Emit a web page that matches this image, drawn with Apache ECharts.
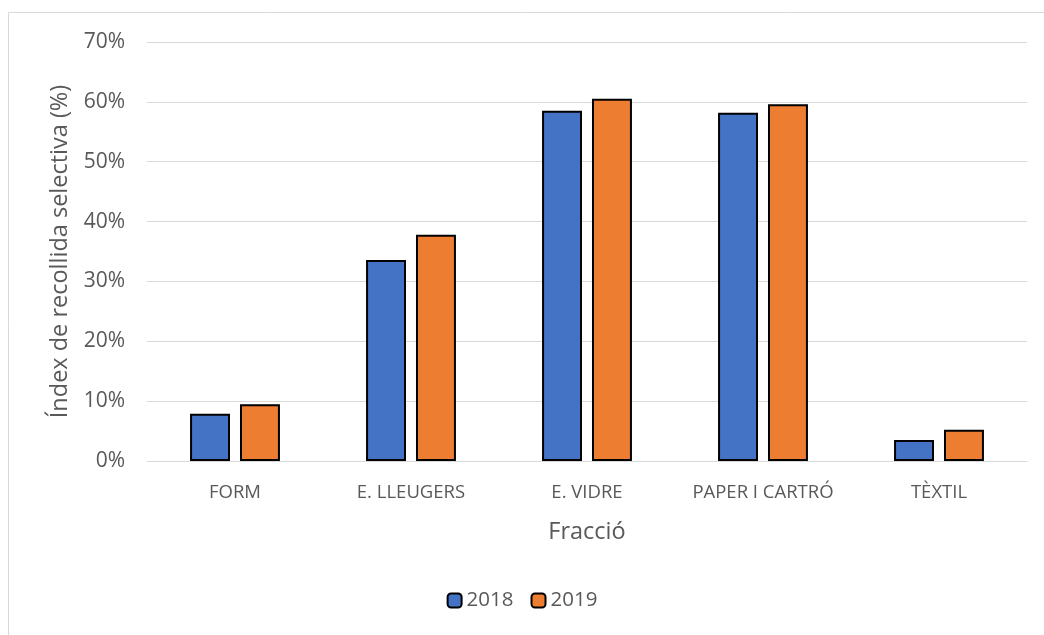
<!DOCTYPE html>
<html><head><meta charset="utf-8">
<script src="https://cdn.jsdelivr.net/npm/echarts@6/dist/echarts.min.js"></script>
<style>html,body{margin:0;padding:0;background:#fff}#c{width:1044px;height:635px}</style>
</head><body><div id="c"></div>
<script>
const categories = ['FORM', 'E. LLEUGERS', 'E. VIDRE', 'PAPER I CARTRÓ', 'TÈXTIL'];
const s2018 = [7.9, 33.6, 58.5, 58.2, 3.5];
const s2019 = [9.5, 37.8, 60.5, 59.6, 5.2];
const yTicks = [0, 10, 20, 30, 40, 50, 60, 70];
const FONT = '"Open Sans", Lato, sans-serif';
const chart = echarts.init(document.getElementById('c'));
const barStyle = (c) => ({ color: c, borderColor: '#000', borderWidth: 2 });
chart.setOption({
  animation: false,
  textStyle: { fontFamily: FONT },
  graphic: [{ type: 'rect', shape: { x: 8.5, y: 12.5, width: 1100, height: 700 }, style: { fill: 'none', stroke: '#d9d9d9', lineWidth: 1 }, z: -1 }],
  grid: { left: 147, right: 17, top: 42, bottom: 174 },
  legend: {
    bottom: 19, left: 'center', itemWidth: 14, itemHeight: 14, itemGap: 17,
    textStyle: { fontSize: 20.5, color: '#595959', fontFamily: FONT },
    data: ['2018', '2019']
  },
  xAxis: {
    type: 'category', data: categories,
    name: 'Fracció', nameLocation: 'middle', nameGap: 59,
    nameTextStyle: { fontSize: 23.5, color: '#595959', fontFamily: FONT },
    axisLine: { lineStyle: { color: '#d9d9d9', width: 1 } },
    axisTick: { show: false },
    axisLabel: { interval: 0, fontSize: 18.5, color: '#595959', margin: 22, fontFamily: FONT }
  },
  yAxis: {
    type: 'value', min: yTicks[0], max: yTicks[yTicks.length - 1], interval: 10,
    name: 'Índex de recollida selectiva (%)', nameLocation: 'middle', nameGap: 73,
    nameTextStyle: { fontSize: 23.5, color: '#595959', fontFamily: FONT },
    axisLine: { show: false }, axisTick: { show: false },
    splitLine: { lineStyle: { color: '#d9d9d9', width: 1 } },
    axisLabel: { fontSize: 21, color: '#595959', margin: 22, formatter: '{value}%', fontFamily: FONT }
  },
  series: [
    { name: '2018', type: 'bar', data: s2018, barWidth: '22.7%', barGap: '25%', itemStyle: barStyle('#4472C4') },
    { name: '2019', type: 'bar', data: s2019, barWidth: '22.7%', itemStyle: barStyle('#ED7D31') }
  ]
});
</script></body></html>
